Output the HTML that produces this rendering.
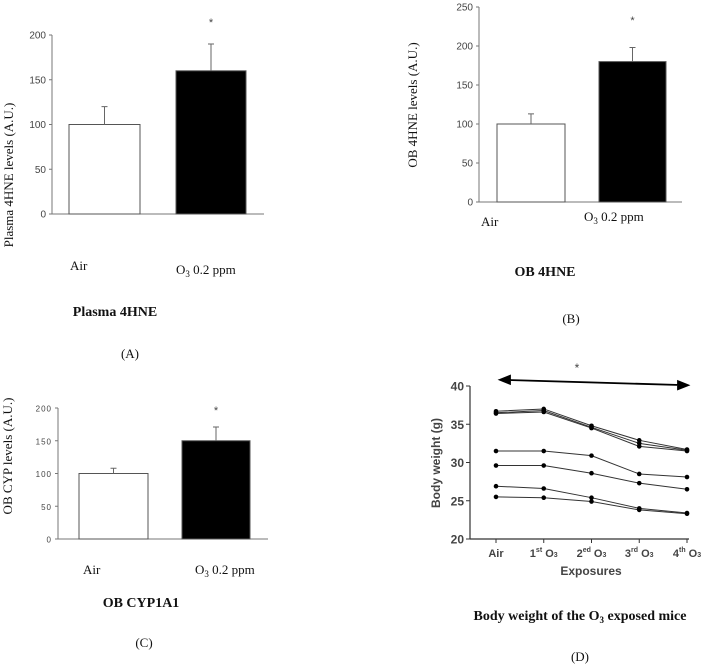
<!DOCTYPE html>
<html><head><meta charset="utf-8"><style>
body{margin:0;background:#fff}
svg{display:block}
.t{font-family:"Liberation Sans",sans-serif;fill:#444}
.s{font-family:"Liberation Serif",serif;fill:#111}
</style></head><body>
<svg id="svg" width="714" height="664" viewBox="0 0 714 664" xmlns="http://www.w3.org/2000/svg">
<g id="panels"></g>
</svg>
<script>
// Bar panels data
const barCategories = ["Air", "O3 0.2 ppm"];
const plasmaValues = [100, 160];
const plasmaErrors = [20, 30];
const ob4hneValues = [100, 180];
const ob4hneErrors = [13, 18];
const cypValues = [100, 150];
const cypErrors = [8, 21];
const ticksAC = [0, 50, 100, 150, 200];
const ticksB = [0, 50, 100, 150, 200, 250];
// Body weight data
const exposureLabels = ["Air", "1st", "2ed", "3rd", "4th"];
const weightTicks = [20, 25, 30, 35, 40];
const mouse1 = [36.7, 37.0, 34.8, 32.9, 31.7];
const mouse2 = [36.5, 36.8, 34.6, 32.5, 31.6];
const mouse3 = [36.4, 36.6, 34.5, 32.1, 31.5];
const mouse4 = [31.5, 31.5, 30.9, 28.5, 28.1];
const mouse5 = [29.6, 29.6, 28.6, 27.3, 26.5];
const mouse6 = [26.9, 26.6, 25.4, 24.0, 23.4];
const mouse7 = [25.5, 25.4, 24.9, 23.8, 23.3];
const mice = [mouse1, mouse2, mouse3, mouse4, mouse5, mouse6, mouse7];

const NS = "http://www.w3.org/2000/svg";
const root = document.getElementById("panels");
function mk(tag, attrs, parent, text) {
  const e = document.createElementNS(NS, tag);
  for (const k in attrs) e.setAttribute(k, attrs[k]);
  if (text !== undefined) e.textContent = text;
  (parent || root).appendChild(e);
  return e;
}

function barPanel(o) {
  const g = mk("g", {});
  
  
  const y = v => o.y0 - (v - 0) / o.max * (o.y0 - o.yTop);
  mk("line", {x1: o.ax, y1: y(o.max), x2: o.ax, y2: o.y0, stroke: "#777", "stroke-width": 1}, g);
  mk("line", {x1: o.ax - 3, y1: o.y0, x2: o.axEnd, y2: o.y0, stroke: "#777", "stroke-width": 1}, g);
  o.ticks.forEach(t => {
    mk("line", {x1: o.ax - 3, y1: y(t), x2: o.ax, y2: y(t), stroke: "#777"}, g);
    const tl = mk("text", {x: o.ax - 6, y: y(t) + 3.5, "text-anchor": "end", "font-size": o.tickFs, class: "t", "letter-spacing": o.ls || 0}, g, t);
    
    
  });
  o.values.forEach((v, i) => {
    const [x0, x1] = o.bars[i];
    const r = mk("rect", {x: x0, y: y(v), width: x1 - x0, height: o.y0 - y(v), fill: i ? "#000" : "#fff", stroke: "#555", "stroke-width": 1}, g);
    
    
    const cx = (x0 + x1) / 2, top = y(v + o.errors[i]);
    const eb = mk("path", {d: `M${cx},${y(v)}V${top}M${cx - 3},${top}H${cx + 3}`, stroke: "#666", fill: "none"}, g);
    
    
  });
  const st = mk("text", {x: (o.bars[1][0] + o.bars[1][1]) / 2, y: o.starY, "text-anchor": "middle", "font-size": 11, class: "t"}, g, "*");
  
  
  const yt = mk("text", {transform: `translate(${o.ytX},${o.ytY}) rotate(-90)`, "text-anchor": "middle", "font-size": 13, class: "s", fill: "#333"}, g, o.ytitle);
  
  
  const a = mk("text", {x: o.airX, y: o.airY, "font-size": 13, class: "s"}, g, "Air");
  
  
  const b = mk("text", {x: o.o3X, y: o.o3Y, "font-size": 13, class: "s"}, g);
  
  
  b.innerHTML = 'O<tspan font-size="9" dy="3">3</tspan><tspan dy="-3"> 0.2 ppm</tspan>';
  const ti = mk("text", {x: o.titleX, y: o.titleY, "text-anchor": "middle", "font-size": 14, "font-weight": "bold", class: "s"}, g, o.title);
  
  
  const lb = mk("text", {x: o.lblX, y: o.lblY, "text-anchor": "middle", "font-size": 13, class: "s"}, g, o.lbl);
  
  
}

barPanel({name: "panel-a", ax: 52, axEnd: 264, y0: 214, yTop: 35, max: 200, ticks: ticksAC, tickFs: 10,
  values: plasmaValues, errors: plasmaErrors, bars: [[69, 140], [176, 246]], starY: 26,
  ytitle: "Plasma 4HNE levels (A.U.)", ytX: 13, ytY: 175, airX: 70, airY: 270, o3X: 176, o3Y: 274,
  title: "Plasma 4HNE", titleX: 115, titleY: 316, lbl: "(A)", lblX: 130, lblY: 358});
barPanel({name: "panel-b", ax: 479, axEnd: 682, y0: 202, yTop: 7, max: 250, ticks: ticksB, tickFs: 10,
  values: ob4hneValues, errors: ob4hneErrors, bars: [[497, 565], [599, 666]], starY: 24,
  ytitle: "OB 4HNE levels (A.U.)", ytX: 417, ytY: 105, airX: 481, airY: 226, o3X: 584, o3Y: 221,
  title: "OB 4HNE", titleX: 545, titleY: 276, lbl: "(B)", lblX: 571, lblY: 323});
barPanel({name: "panel-c", ax: 58, axEnd: 268, y0: 539, yTop: 408, max: 200, ticks: ticksAC, tickFs: 8, ls: 1,
  values: cypValues, errors: cypErrors, bars: [[79, 148], [182, 250]], starY: 414,
  ytitle: "OB CYP levels (A.U.)", ytX: 12, ytY: 456, airX: 83, airY: 574, o3X: 195, o3Y: 574,
  title: "OB CYP1A1", titleX: 141, titleY: 607, lbl: "(C)", lblX: 144, lblY: 647});

// Panel D
const gd = mk("g", {});


const dX0 = 496, dXstep = 47.75, dY20 = 539, dY40 = 386, dAx = 470;
const dx = i => dX0 + i * dXstep;
const dy = v => dY20 - (v - 20) / 20 * (dY20 - dY40);
mk("line", {x1: dAx, y1: dy(40), x2: dAx, y2: dy(20), stroke: "#333", "stroke-width": 1.2}, gd);
mk("line", {x1: dAx, y1: dy(20), x2: dx(4) + 2, y2: dy(20), stroke: "#333", "stroke-width": 1.2}, gd);
weightTicks.forEach(t => {
  mk("line", {x1: dAx - 4, y1: dy(t), x2: dAx, y2: dy(t), stroke: "#333"}, gd);
  const tl = mk("text", {x: dAx - 6, y: dy(t) + 4.5, "text-anchor": "end", "font-size": 12, "font-weight": "bold", class: "t", fill: "#222"}, gd, t);
  
  
});
exposureLabels.forEach((l, i) => {
  mk("line", {x1: dx(i), y1: dy(20), x2: dx(i), y2: dy(20) + 4, stroke: "#333"}, gd);
  const t = mk("text", {x: dx(i), y: 557, "text-anchor": "middle", "font-size": 11, "font-weight": "bold", class: "t", fill: "#222"}, gd);
  
  
  if (i === 0) t.textContent = l;
  else t.innerHTML = l[0] + '<tspan font-size="7" dy="-5">' + l.slice(1) + '</tspan><tspan dy="5"> O</tspan><tspan font-size="7">3</tspan>';
});
mice.forEach((m, k) => {
  const p = mk("polyline", {points: m.map((v, i) => dx(i) + "," + dy(v)).join(" "), fill: "none", stroke: "#333", "stroke-width": 1}, gd);
  
  
  m.forEach((v, i) => {
    const c = mk("circle", {cx: dx(i), cy: dy(v), r: 2.3, fill: "#000"}, gd);
    
    
  });
});
const arr = mk("path", {d: "M508,380 L680,385 M500,379.8 l10,-4 v8 z M688,385.2 l-10,-4 v8 z", stroke: "#000", "stroke-width": 1.8, fill: "#000"}, gd);


const sd = mk("text", {x: 577, y: 372, "text-anchor": "middle", "font-size": 12, class: "t"}, gd, "*");


const yd = mk("text", {transform: "translate(440,463) rotate(-90)", "text-anchor": "middle", "font-size": 12, "font-weight": "bold", class: "t", fill: "#222"}, gd, "Body weight (g)");


const xd = mk("text", {x: 591, y: 575, "text-anchor": "middle", "font-size": 12, "font-weight": "bold", class: "t", fill: "#222"}, gd, "Exposures");


const td = mk("text", {x: 580, y: 620, "text-anchor": "middle", "font-size": 14, "font-weight": "bold", class: "s"}, gd);


td.innerHTML = 'Body weight of the O<tspan font-size="9" dy="3">3</tspan><tspan dy="-3"> exposed mice</tspan>';
const ld = mk("text", {x: 580, y: 661, "text-anchor": "middle", "font-size": 13, class: "s"}, gd, "(D)");


</script>
</body></html>
